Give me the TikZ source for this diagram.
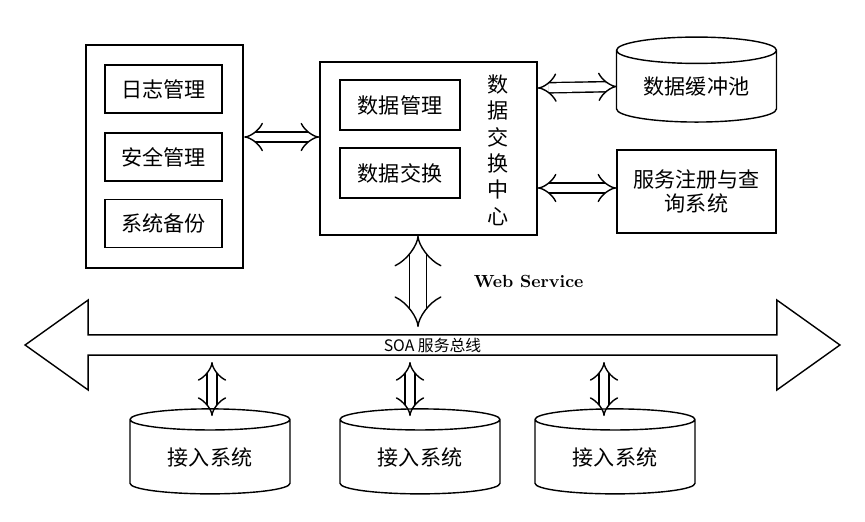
\documentclass[tikz,border=0pt]{standalone}
\usepackage{fontspec}
\newfontfamily\cjk{Noto Sans CJK SC}
\usetikzlibrary{positioning,shapes.geometric,shapes.arrows,arrows.meta}
\tikzset{
  box/.style={draw, thick, inner sep=0pt, font=\cjk\large},
  drum/.style={cylinder, draw, thick, shape border rotate=90, aspect=0.25,
    minimum width=3.2cm, minimum height=1.7cm, inner sep=0pt, font=\cjk\large},
  harrow/.style={double, double distance=5pt, thick, {Implies}-{Implies}},
}
\begin{document}
\begin{tikzpicture}[x=0.02cm, y=-0.02cm]
    \useasboundingbox (0,0) rectangle (865,521);
    % Management block
    \node[box, minimum width=3.14cm, minimum height=4.46cm, line width=1.4pt] (mgmt) at (164.5,156.5) {};
    \node[box, minimum width=2.34cm, minimum height=0.96cm] (log) at (163.5,89) {日志管理};
    \node[box, minimum width=2.34cm, minimum height=0.96cm] (safe) at (163.5,157) {安全管理};
    \node[box, minimum width=2.34cm, minimum height=0.96cm] (backup) at (163.5,223.5) {系统备份};

    % Exchange centre
    \node[box, minimum width=4.34cm, minimum height=3.46cm] (hub) at (428.5,148.5) {};
    \node[box, minimum width=2.4cm, minimum height=1.0cm] (dm) at (400,105) {数据管理};
    \node[box, minimum width=2.4cm, minimum height=1.0cm] (dx) at (400,173) {数据交换};
    \node[font=\cjk\large, align=center, inner sep=0pt] (hubname) at (498,150)
        {数\\[1pt]据\\[1pt]交\\[1pt]换\\[1pt]中\\[1pt]心};

    % Right side
    \node[drum] (buf) at (696.5,86.5) {数据缓冲池};
    \node[box, minimum width=3.18cm, minimum height=1.66cm, align=center] (reg) at (696.5,191.5)
        {服务注册与查\\询系统};

    % Bus
    \node[double arrow, draw, thick, minimum height=16.3cm, minimum width=1.8cm,
        double arrow head extend=0.55cm, double arrow tip angle=71, inner sep=0pt,
        font=\cjk\small] (bus) at (432.5,345) {SOA 服务总线};
    \coordinate (bustop) at (418,327);

    % Access systems
    \node[drum] (acc1) at (210,457) {接入系统};
    \node[drum] (acc2) at (420,457) {接入系统};
    \node[drum] (acc3) at (615,457) {接入系统};
    \coordinate (b1) at (212,362);
    \coordinate (b2) at (410,362);
    \coordinate (b3) at (604,362);

    % Links
    \draw[harrow] (mgmt.east |- 0,137) -- (hub.west |- 0,137);
    \draw[harrow] (hub.east |- 0,88) -- (buf.center -| 617,0);
    \draw[harrow] (hub.east |- 0,188) -- (reg.west |- 0,188);
    \draw[harrow, double distance=9pt] (hub.south -| bustop) -- (bustop)
        node[midway, right=28pt, font=\bfseries] {Web Service};
    \draw[harrow] (b1) -- (b1 |- 0,416);
    \draw[harrow] (b2) -- (b2 |- 0,416);
    \draw[harrow] (b3) -- (b3 |- 0,416);
\end{tikzpicture}
\end{document}
